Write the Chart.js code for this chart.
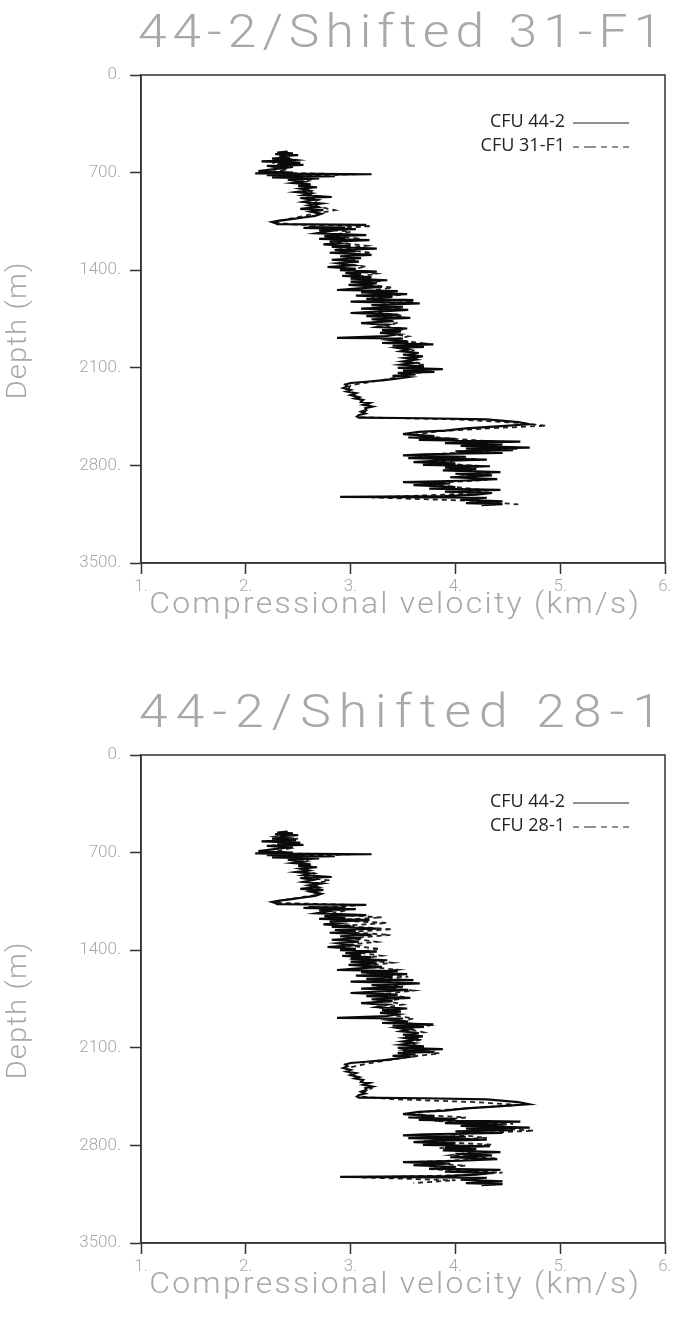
<!DOCTYPE html>
<html>
<head>
<meta charset="utf-8">
<title>Compressional velocity logs</title>
<script src="https://cdn.jsdelivr.net/npm/chart.js@4.4.1/dist/chart.umd.min.js"></script>
<style>
  html, body { margin: 0; padding: 0; background: #fff; overflow: hidden; }
  .panel { position: absolute; left: 0; width: 681px; height: 640px; }
</style>
</head>
<body>
<div class="panel" style="top:0"><canvas id="chartTop" width="681" height="640"></canvas></div>
<div class="panel" style="top:680px"><canvas id="chartBottom" width="681" height="640"></canvas></div>
<script>
// axis ticks
const depthTicks = [0, 700, 1400, 2100, 2800, 3500];
const velTicks = [1, 2, 3, 4, 5, 6];

// CFU 44-2 log (depth in m, Vp in km/s) - same well on both panels
const depth442 = [
  550, 556, 562, 568, 575, 582, 590, 600, 610, 620, 628, 636, 645, 652, 660, 668, 690, 700, 706, 712, 718, 726, 735, 742, 750,
  765, 775, 785, 795, 805, 815, 828, 840, 850, 862, 875, 882, 895, 910, 922, 935, 948, 960, 968, 980, 995, 1010, 1022, 1035, 1045, 1055, 1062, 1070, 1075, 1080, 1090, 1097, 1105, 1112, 1120,
  1135, 1148, 1155, 1165, 1175, 1185, 1195, 1205, 1215, 1225, 1232, 1245, 1255, 1265, 1275, 1290, 1300, 1313, 1325, 1338, 1350, 1365, 1377, 1390, 1399, 1410, 1420, 1432, 1440, 1449, 1460,
  1472, 1482, 1495, 1505, 1520, 1530, 1542, 1550, 1560, 1572, 1582, 1592, 1605, 1614, 1625, 1638, 1650, 1662, 1675, 1685, 1697, 1707, 1718, 1730, 1742, 1752, 1765, 1779, 1790, 1807, 1818, 1830, 1840, 1850, 1860, 1872, 1886, 1890, 1900, 1912, 1922, 1932, 1942, 1950, 1958, 1970, 1982, 1994, 2005, 2018, 2030, 2042, 2055, 2065, 2078, 2090, 2101, 2110, 2120, 2130, 2137, 2148, 2158, 2166,
  2180, 2190, 2200, 2209, 2220, 2232, 2245, 2259, 2270, 2282, 2295, 2310, 2320, 2331, 2345, 2352, 2365, 2378, 2390, 2403, 2415, 2428, 2438, 2450, 2458, 2462, 2470, 2490, 2505, 2520, 2535, 2550, 2560,
  2575, 2590, 2600, 2610, 2618, 2630, 2640, 2650, 2660, 2672, 2680, 2690, 2700, 2711, 2720, 2728, 2738, 2748, 2758, 2768, 2776, 2786, 2796, 2806, 2816, 2826, 2836, 2848, 2860, 2872, 2885, 2898, 2910, 2920, 2930, 2942, 2955, 2966, 2976, 2988, 2998, 3010, 3020, 3026, 3032, 3045, 3058, 3070, 3078, 3085
];
const vel442 = [
  2.40, 2.30, 2.45, 2.28, 2.50, 2.32, 2.42, 2.25, 2.48, 2.15, 2.52, 2.30, 2.55, 2.20, 2.45, 2.35, 2.12, 2.45, 2.09, 3.20, 2.20, 2.85, 2.25, 2.70, 2.40,
  2.55, 2.45, 2.62, 2.50, 2.68, 2.52, 2.60, 2.48, 2.62, 2.55, 2.82, 2.52, 2.65, 2.55, 2.72, 2.60, 2.68, 2.52, 2.74, 2.62, 2.72, 2.66, 2.55, 2.42, 2.32, 2.25, 2.28, 2.30, 3.15, 2.60, 2.95, 2.55, 3.05, 2.70, 2.80,
  2.68, 3.15, 2.75, 2.95, 2.70, 3.18, 2.80, 2.90, 2.74, 3.00, 2.82, 3.25, 2.85, 3.05, 2.80, 3.20, 2.90, 3.10, 2.82, 3.08, 2.88, 3.02, 2.78, 3.05, 2.90, 3.25, 2.95, 3.10, 2.92, 3.20, 3.00,
  3.35, 3.00, 3.25, 2.98, 3.30, 3.08, 2.87, 3.45, 3.10, 3.54, 3.05, 3.40, 3.15, 3.60, 3.00, 3.66, 3.20, 3.50, 3.10, 3.55, 3.25, 3.00, 3.45, 3.15, 3.57, 3.20, 3.40, 3.10, 3.35, 3.25, 3.54, 3.30, 3.48, 3.28, 3.45, 3.35, 2.87, 3.50, 3.38, 3.55, 3.30, 3.79, 3.40, 3.70, 3.45, 3.55, 3.48, 3.65, 3.50, 3.69, 3.52, 3.62, 3.50, 3.60, 3.48, 3.70, 3.45, 3.88, 3.50, 3.80, 3.45, 3.62, 3.40, 3.55,
  3.42, 3.30, 3.15, 3.00, 2.95, 2.97, 2.93, 3.00, 2.96, 3.05, 3.00, 3.08, 3.04, 3.12, 3.10, 3.18, 3.12, 3.21, 3.14, 3.15, 3.10, 3.14, 3.08, 3.06, 3.08, 3.70, 4.30, 4.60, 4.70, 4.40, 4.10, 3.90, 3.65,
  3.50, 3.80, 3.55, 4.00, 3.65, 4.62, 3.90, 4.45, 4.05, 4.71, 4.10, 4.55, 4.00, 4.45, 3.70, 3.50, 4.10, 3.55, 4.30, 3.80, 3.60, 4.00, 3.69, 4.33, 3.90, 4.20, 3.88, 4.43, 4.00, 4.35, 3.95, 4.40, 4.05, 3.50, 3.95, 3.60, 4.00, 3.75, 4.43, 3.90, 4.35, 4.20, 3.90, 2.90, 4.30, 4.05, 4.45, 4.10, 4.45, 4.25
];

// CFU 31-F1, shifted
const depth31 = [
  560, 575, 592, 610, 628, 645, 662, 680, 700, 712, 725, 745, 770, 795, 820, 845, 870, 895, 920, 945,
  970, 995, 1020, 1040, 1058, 1072, 1085, 1105, 1125, 1150, 1175, 1200, 1225, 1250, 1275, 1300, 1325, 1350, 1375, 1400,
  1425, 1450, 1475, 1500, 1525, 1550, 1575, 1600, 1625, 1650, 1675, 1700, 1725, 1750, 1775, 1800, 1825, 1850, 1875, 1900,
  1925, 1950, 1975, 2000, 2025, 2050, 2075, 2100, 2125, 2150, 2175, 2200, 2225, 2250, 2280, 2310, 2340, 2370, 2400, 2430,
  2455, 2470, 2495, 2515, 2535, 2555, 2580, 2605, 2630, 2655, 2680, 2705, 2730, 2755, 2780, 2805, 2830, 2855, 2880, 2905,
  2930, 2955, 2980, 3005, 3030, 3055, 3080
];
const vel31 = [
  2.35, 2.45, 2.30, 2.50, 2.25, 2.48, 2.28, 2.40, 2.15, 3.05, 2.35, 2.65, 2.50, 2.60, 2.55, 2.65, 2.58, 2.70, 2.60, 2.70,
  2.85, 2.65, 2.50, 2.35, 2.28, 2.45, 3.20, 2.75, 3.00, 2.80, 3.10, 2.85, 3.15, 2.90, 3.20, 2.95, 3.05, 2.90, 3.15, 2.95,
  3.25, 3.05, 3.30, 3.10, 3.40, 3.15, 3.50, 3.20, 3.60, 3.25, 3.45, 3.20, 3.50, 3.30, 3.45, 3.35, 3.50, 3.35, 3.55, 3.40,
  3.70, 3.50, 3.60, 3.55, 3.65, 3.55, 3.70, 3.55, 3.75, 3.50, 3.40, 3.20, 3.00, 2.98, 3.02, 3.06, 3.12, 3.18, 3.15, 3.12,
  3.10, 4.00, 4.60, 4.87, 4.30, 3.85, 3.60, 3.90, 4.40, 4.20, 4.60, 4.10, 3.60, 4.20, 3.75, 4.25, 3.95, 4.35, 4.05, 4.30,
  3.70, 4.00, 4.30, 4.05, 3.20, 4.20, 4.60
];

// CFU 28-1, shifted
const depth28 = [
  570, 585, 600, 618, 635, 652, 670, 690, 704, 712, 728, 750, 775, 800, 825, 850, 875, 900, 925, 950,
  975, 1000, 1022, 1042, 1060, 1077, 1095, 1115, 1140, 1165, 1185, 1205, 1225, 1250, 1270, 1290, 1314, 1340, 1365, 1390,
  1415, 1440, 1465, 1490, 1515, 1540, 1565, 1590, 1615, 1640, 1665, 1690, 1715, 1740, 1765, 1790, 1815, 1840, 1865, 1890,
  1915, 1940, 1965, 1990, 2015, 2040, 2065, 2090, 2115, 2140, 2165, 2190, 2215, 2240, 2270, 2300, 2330, 2360, 2390, 2420,
  2450, 2468, 2490, 2510, 2530, 2550, 2575, 2600, 2625, 2645, 2670, 2695, 2720, 2745, 2770, 2795, 2820, 2845, 2870, 2895,
  2920, 2945, 2970, 2995, 3015, 3030, 3050, 3070
];
const vel28 = [
  2.40, 2.28, 2.50, 2.30, 2.45, 2.22, 2.42, 2.30, 2.12, 3.00, 2.40, 2.60, 2.48, 2.62, 2.52, 2.66, 2.55, 2.80, 2.62, 2.72,
  2.60, 2.70, 2.52, 2.35, 2.27, 3.10, 2.70, 2.95, 2.80, 3.30, 2.85, 3.35, 2.90, 3.40, 2.95, 3.38, 3.00, 3.25, 2.95, 3.28,
  3.05, 3.30, 3.05, 3.40, 3.10, 3.45, 3.15, 3.55, 3.20, 3.57, 3.25, 3.60, 3.30, 3.55, 3.35, 3.50, 3.30, 3.48, 3.40, 3.60,
  3.45, 3.75, 3.55, 3.70, 3.50, 3.68, 3.55, 3.65, 3.50, 3.85, 3.55, 3.35, 3.15, 3.00, 2.98, 3.03, 3.08, 3.15, 3.20, 3.12,
  3.10, 3.40, 4.20, 4.60, 4.20, 3.80, 3.55, 4.10, 3.80, 4.55, 4.25, 4.75, 3.95, 4.30, 3.70, 4.35, 3.85, 4.20, 3.95, 4.40,
  3.60, 4.10, 3.75, 4.45, 4.00, 3.10, 4.00, 3.60
];

const GRAY = '#a8a8a8';
const INK = '#333';
const thinFont = "Roboto, 'DejaVu Sans', sans-serif";

function toPoints(depths, vels) {
  const n = Math.min(depths.length, vels.length);
  const pts = [];
  for (let i = 0; i < n; i++) pts.push({ x: vels[i], y: depths[i] });
  return pts;
}

// plotter-style lettering: glyphs widened a bit, the rest of the width goes to spacing
function fitText(ctx, text, x, y, width, font, stretch) {
  ctx.save();
  ctx.font = font;
  ctx.textAlign = 'center';
  ctx.textBaseline = 'middle';
  ctx.translate(x, y);
  ctx.scale(stretch, 1);
  const w = ctx.measureText(text).width * stretch;
  if ('letterSpacing' in ctx) {
    const gap = (width - w) / text.length / stretch;
    ctx.letterSpacing = gap + 'px';
    ctx.fillText(text, gap / 2, 0);
  } else {
    ctx.scale(width / w, 1);
    ctx.fillText(text, 0, 0);
  }
  ctx.restore();
}

// frame, big gray titles and the little legend in the corner
const plotDecor = {
  id: 'plotDecor',
  afterDraw(chart, args, opts) {
    const { ctx, chartArea: a } = chart;
    const midX = (a.left + a.right) / 2;
    const midY = (a.top + a.bottom) / 2;
    ctx.save();

    ctx.strokeStyle = INK;
    ctx.lineWidth = 1.5;
    ctx.strokeRect(a.left, a.top, a.right - a.left, a.bottom - a.top);

    ctx.fillStyle = GRAY;
    fitText(ctx, opts.title, midX - 3, a.top - 40, 530, "300 46px " + thinFont, 1.12);
    fitText(ctx, 'Compressional velocity (km/s)', midX - 9, a.bottom + 43, 492, "300 29px " + thinFont, 1.1);
    ctx.save();
    ctx.translate(19, midY + 12);
    ctx.rotate(-Math.PI / 2);
    fitText(ctx, 'Depth (m)', 0, 0, 138, "300 27px " + thinFont, 1.08);
    ctx.restore();

    // legend
    ctx.font = "18px 'Open Sans', sans-serif";
    ctx.fillStyle = '#222';
    ctx.textAlign = 'right';
    ctx.textBaseline = 'middle';
    const lx = a.left + 424;
    opts.labels.forEach((label, i) => {
      const y = a.top + 47 + i * 24;
      ctx.fillText(label, lx, y);
      ctx.beginPath();
      ctx.strokeStyle = '#222';
      ctx.lineWidth = 1.2;
      ctx.setLineDash(i === 0 ? [] : [6, 5, 12, 5, 6, 5, 6, 5]);
      ctx.moveTo(lx + 8, y + 1);
      ctx.lineTo(lx + 64, y + 1);
      ctx.stroke();
    });
    ctx.setLineDash([]);
    ctx.restore();
  }
};

function makeChart(canvasId, title, shiftedLabel, shiftedDepth, shiftedVel) {
  return new Chart(document.getElementById(canvasId), {
    type: 'scatter',
    data: {
      datasets: [
        {
          label: 'CFU 44-2',
          data: toPoints(depth442, vel442),
          showLine: true,
          borderColor: '#0a0a0a',
          borderWidth: 2.2,
          pointRadius: 0,
          tension: 0
        },
        {
          label: shiftedLabel,
          data: toPoints(shiftedDepth, shiftedVel),
          showLine: true,
          borderColor: '#222',
          borderWidth: 1.8,
          borderDash: [5, 4],
          pointRadius: 0,
          tension: 0
        }
      ]
    },
    options: {
      responsive: false,
      animation: false,
      events: [],
      layout: { padding: { top: 75, right: 16, left: 0, bottom: 0 } },
      scales: {
        x: {
          type: 'linear',
          position: 'bottom',
          min: 1,
          max: 6,
          afterBuildTicks: scale => { scale.ticks = velTicks.map(v => ({ value: v })); },
          afterFit: scale => { scale.height = 77; },
          ticks: {
            callback: v => v + '.',
            color: GRAY,
            padding: 3,
            maxRotation: 0,
            font: { family: 'Roboto', size: 17, weight: '300' }
          },
          grid: { drawOnChartArea: false, drawTicks: true, tickLength: 11, tickColor: INK, tickWidth: 1.5 },
          border: { display: true, color: INK, width: 1.5 }
        },
        y: {
          type: 'linear',
          reverse: true,
          min: 0,
          max: 3500,
          afterBuildTicks: scale => { scale.ticks = depthTicks.map(v => ({ value: v })); },
          afterFit: scale => { scale.width = 141; },
          ticks: {
            callback: v => v + '.',
            color: GRAY,
            padding: 9,
            font: { family: 'Roboto', size: 17, weight: '300' }
          },
          grid: { drawOnChartArea: false, drawTicks: true, tickLength: 11, tickColor: INK, tickWidth: 1.5 },
          border: { display: true, color: INK, width: 1.5 }
        }
      },
      plugins: {
        legend: { display: false },
        tooltip: { enabled: false },
        plotDecor: { title: title, labels: ['CFU 44-2', shiftedLabel] }
      }
    },
    plugins: [plotDecor]
  });
}

makeChart('chartTop', '44-2/Shifted 31-F1', 'CFU 31-F1', depth31, vel31);
makeChart('chartBottom', '44-2/Shifted 28-1', 'CFU 28-1', depth28, vel28);
</script>
</body>
</html>
